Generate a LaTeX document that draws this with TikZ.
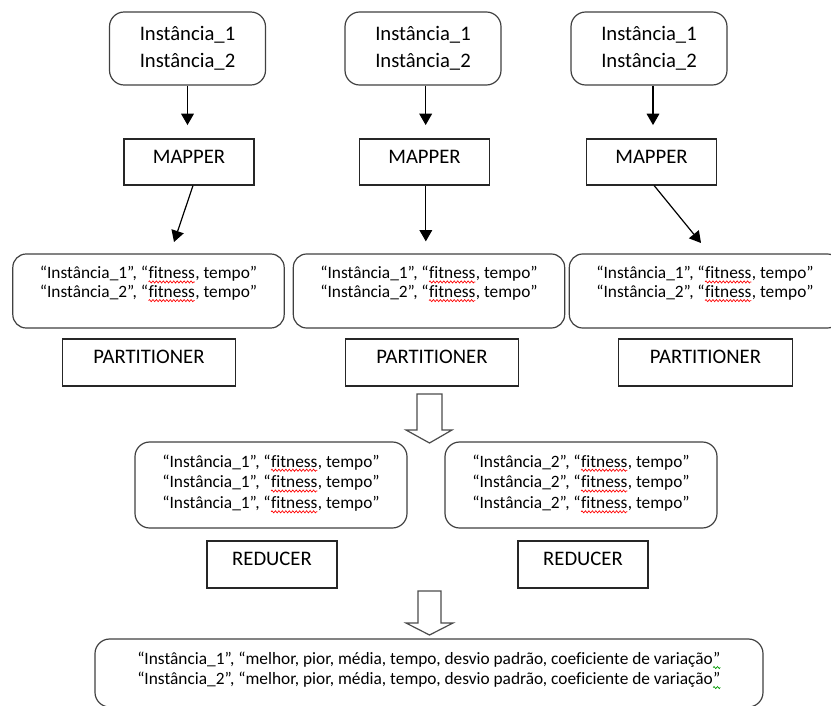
\documentclass[tikz,border=0pt]{standalone}
\usepackage{fontspec}
\setmainfont{Carlito}[Ligatures=NoCommon]
\usetikzlibrary{arrows.meta,decorations.pathmorphing}
\newcommand\tb[2]{\raisebox{#1}[\height][\depth]{\begin{tabular}{@{}c@{}}#2\end{tabular}}}
\newcommand\sq[2][red]{\tikz[baseline=(w.base)]{\node[inner sep=0pt, outer sep=0pt, draw=none, fill=none, minimum width=0pt, minimum height=0pt, rounded corners=0pt, anchor=base] (w) at (0,0) {#2};\draw[#1, line width=0.5pt, rounded corners=0pt, decorate, decoration={zigzag, amplitude=0.8pt, segment length=2.6pt}] ([yshift=-2.4pt]w.base west) -- ([yshift=-2.4pt]w.base east);}}
\begin{document}
\begin{tikzpicture}[x=0.75pt, y=-0.75pt,
  rbox/.style={draw=black!75, line width=0.9pt, rounded corners=11pt, inner sep=0pt, fill=white},
  sbox/.style={draw=black!85, line width=0.9pt, inner sep=0pt},
  big/.style={font=\fontsize{15.5}{20}\selectfont},
  small/.style={font=\fontsize{13}{14}\selectfont},
  smallb/.style={font=\fontsize{13}{15.6}\selectfont},
  smallc/.style={font=\fontsize{13}{15}\selectfont},
  topbox/.style={rbox, big, minimum width=117pt, minimum height=54.75pt},
  mapbox/.style={sbox, big, minimum width=97.5pt, minimum height=34.5pt},
  valbox/.style={rbox, small, minimum width=203.5pt, minimum height=55.5pt, rounded corners=10pt},
  parbox/.style={sbox, big, minimum width=130pt, minimum height=35.25pt},
  redbox/.style={rbox, smallb, minimum width=204pt, minimum height=64.5pt, rounded corners=11pt},
  redcbox/.style={sbox, big, minimum width=97.5pt, minimum height=35.25pt},
  finbox/.style={rbox, smallc, minimum width=501pt, minimum height=51pt, rounded corners=11pt},
  arr/.style={-{Triangle[width=9.5pt,length=8.5pt]}, line width=0.9pt},
  hollow/.style={draw=black!70, line width=0.9pt, fill=white, line join=miter}
]
\useasboundingbox (0,0) rectangle (831,706);
% top instance boxes
\node[topbox] (top1) at (187.5,48.5) {\tb{0pt}{Instância\_1\\Instância\_2}};
\node[topbox] (top2) at (423,48.5) {\tb{0pt}{Instância\_1\\Instância\_2}};
\node[topbox] (top3) at (649,48.5) {\tb{0pt}{Instância\_1\\Instância\_2}};
% mappers
\node[mapbox] (map1) at (189,162) {\tb{3pt}{MAPPER}};
\node[mapbox] (map2) at (424.5,162) {\tb{3pt}{MAPPER}};
\node[mapbox] (map3) at (651.5,162) {\tb{3pt}{MAPPER}};
% mapper outputs
\node[valbox] (val1) at (148.5,291) {\tb{5pt}{“Instância\_1”, “\sq{fitness}, tempo”\\“Instância\_2”, “\sq{fitness}, tempo”}};
\node[valbox] (val2) at (429,291) {\tb{5pt}{“Instância\_1”, “\sq{fitness}, tempo”\\“Instância\_2”, “\sq{fitness}, tempo”}};
\node[valbox] (val3) at (705,291) {\tb{5pt}{“Instância\_1”, “\sq{fitness}, tempo”\\“Instância\_2”, “\sq{fitness}, tempo”}};
% partitioners
\node[parbox] (par1) at (149,362.5) {\tb{3pt}{PARTITIONER}};
\node[parbox] (par2) at (432,362.5) {\tb{3pt}{PARTITIONER}};
\node[parbox] (par3) at (705.5,362.5) {\tb{3pt}{PARTITIONER}};
% reducer inputs
\node[redbox] (rin1) at (271,485) {\tb{1pt}{“Instância\_1”, “\sq{fitness}, tempo”\\“Instância\_1”, “\sq{fitness}, tempo”\\“Instância\_1”, “\sq{fitness}, tempo”}};
\node[redbox] (rin2) at (581,485) {\tb{1pt}{“Instância\_2”, “\sq{fitness}, tempo”\\“Instância\_2”, “\sq{fitness}, tempo”\\“Instância\_2”, “\sq{fitness}, tempo”}};
% reducers
\node[redcbox] (red1) at (272,564.5) {\tb{3pt}{REDUCER}};
\node[redcbox] (red2) at (583,564.5) {\tb{3pt}{REDUCER}};
% final output
\node[finbox] (fin) at (429,673) {\tb{2pt}{“Instância\_1”, “melhor, pior, média, tempo, desvio padrão, coeficiente de variação\sq[green!60!black]{”}\\“Instância\_2”, “melhor, pior, média, tempo, desvio padrão, coeficiente de variação\sq[green!60!black]{”}}};
% arrows top -> mapper
\draw[arr, shorten >=10pt] (top1.south) -- (top1.south |- map1.north);
\draw[arr, shorten >=10pt] ([xshift=2pt]top2.south) -- ([xshift=2pt]top2.south |- map2.north);
\draw[arr, shorten >=10pt] ([xshift=3pt]top3.south) -- ([xshift=3pt]top3.south |- map3.north);
% arrows mapper -> values
\coordinate (e1) at (174,242);
\coordinate (e3) at (701,243);
\draw[arr] ([xshift=3pt]map1.south) -- (e1);
\draw[arr, shorten >=9pt] ([xshift=1pt]map2.south) -- ([xshift=1pt]map2.south |- val2.north);
\draw[arr] ([xshift=2pt]map3.south) -- (e3);
% hollow arrows
\draw[hollow] (417,394) -- (442,394) -- (442,430) -- (452,430) -- (429.5,443) -- (406,430) -- (417,430) -- cycle;
\draw[hollow] (418,591) -- (441,591) -- (441,623) -- (453,623) -- (429.5,635) -- (406,623) -- (418,623) -- cycle;
\end{tikzpicture}
\end{document}
